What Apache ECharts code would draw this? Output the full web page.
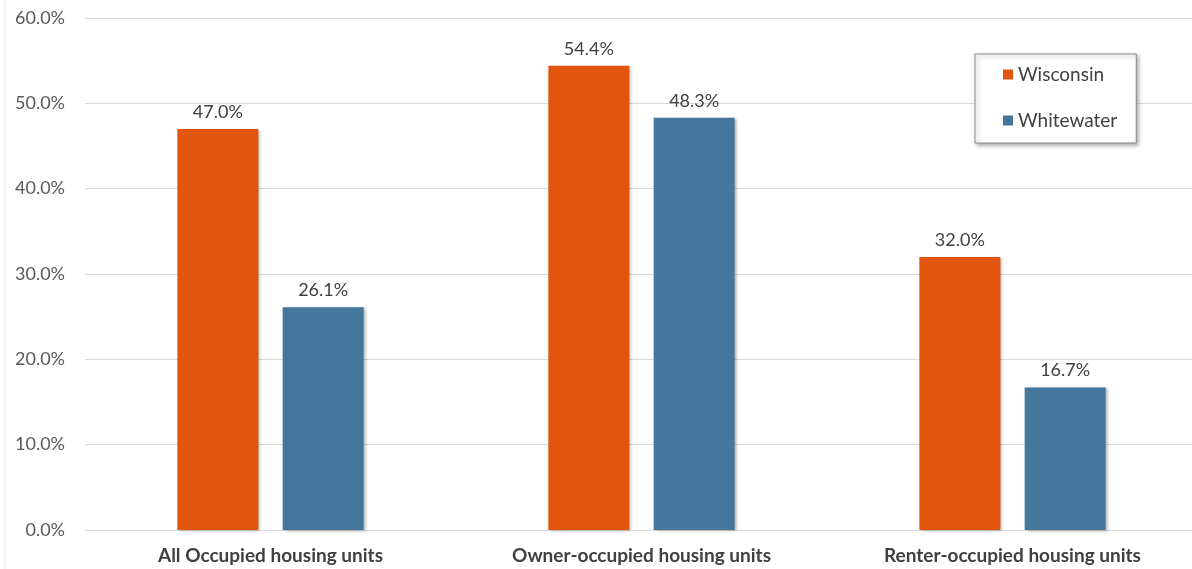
<!DOCTYPE html>
<html><head><meta charset="utf-8">
<script src="https://cdn.jsdelivr.net/npm/echarts@6/dist/echarts.min.js"></script>
<style>html,body{margin:0;padding:0;background:#fff;overflow:hidden}#c{width:1200px;height:569px}</style>
</head><body><div id="c"></div>
<script>
const categories = ['All Occupied housing units', 'Owner-occupied housing units', 'Renter-occupied housing units'];
const wisconsin = [47.0, 54.4, 32.0];
const whitewater = [26.1, 48.3, 16.7];
const yTicks = {min: 0, max: 60, interval: 10};

const chart = echarts.init(document.getElementById('c'), null, {renderer: 'canvas'});
const font = 'Lato, "Open Sans", sans-serif';
const barStyle = (c) => ({color: c, shadowColor: 'rgba(0,0,0,0.3)', shadowBlur: 3, shadowOffsetX: 2, shadowOffsetY: 1});
chart.setOption({
  animation: false,
  textStyle: {fontFamily: font},
  grid: {left: 85, top: 18, width: 1113, bottom: 39, containLabel: false},
  graphic: [{type: 'line', shape: {x1: 5, y1: 0, x2: 5, y2: 569}, style: {stroke: '#fbe3e8', lineWidth: 1}, silent: true}],
  legend: {
    orient: 'vertical', left: 975, top: 54,
    padding: [11, 19, 13, 28], itemGap: 27, itemWidth: 10, itemHeight: 10,
    backgroundColor: '#fff', borderColor: '#8c8c8c', borderWidth: 1,
    shadowColor: 'rgba(0,0,0,0.35)', shadowBlur: 4, shadowOffsetX: 2, shadowOffsetY: 2,
    textStyle: {fontSize: 19, color: '#404040', fontFamily: font},
    icon: 'rect',
    data: ['Wisconsin', 'Whitewater']
  },
  xAxis: {
    type: 'category', data: categories,
    axisLine: {show: false}, axisTick: {show: false},
    axisLabel: {fontSize: 19, fontWeight: 'bold', color: '#404040', margin: 16, fontFamily: font}
  },
  yAxis: {
    type: 'value', min: yTicks.min, max: yTicks.max, interval: yTicks.interval,
    axisLine: {show: false}, axisTick: {show: false},
    axisLabel: {fontSize: 18, color: '#595959', margin: 20, fontFamily: font, formatter: v => v.toFixed(1) + '%'},
    splitLine: {lineStyle: {color: '#d9d9d9', width: 1}}
  },
  series: [
    {name: 'Wisconsin', type: 'bar', data: wisconsin, barWidth: 81, barGap: '30%',
     itemStyle: barStyle('#E2550F'),
     label: {show: true, position: 'top', distance: 8, fontSize: 18, color: '#404040', fontFamily: font, formatter: p => p.value.toFixed(1) + '%'}},
    {name: 'Whitewater', type: 'bar', data: whitewater, barWidth: 81,
     itemStyle: barStyle('#45769C'),
     label: {show: true, position: 'top', distance: 8, fontSize: 18, color: '#404040', fontFamily: font, formatter: p => p.value.toFixed(1) + '%'}}
  ]
});
</script></body></html>
